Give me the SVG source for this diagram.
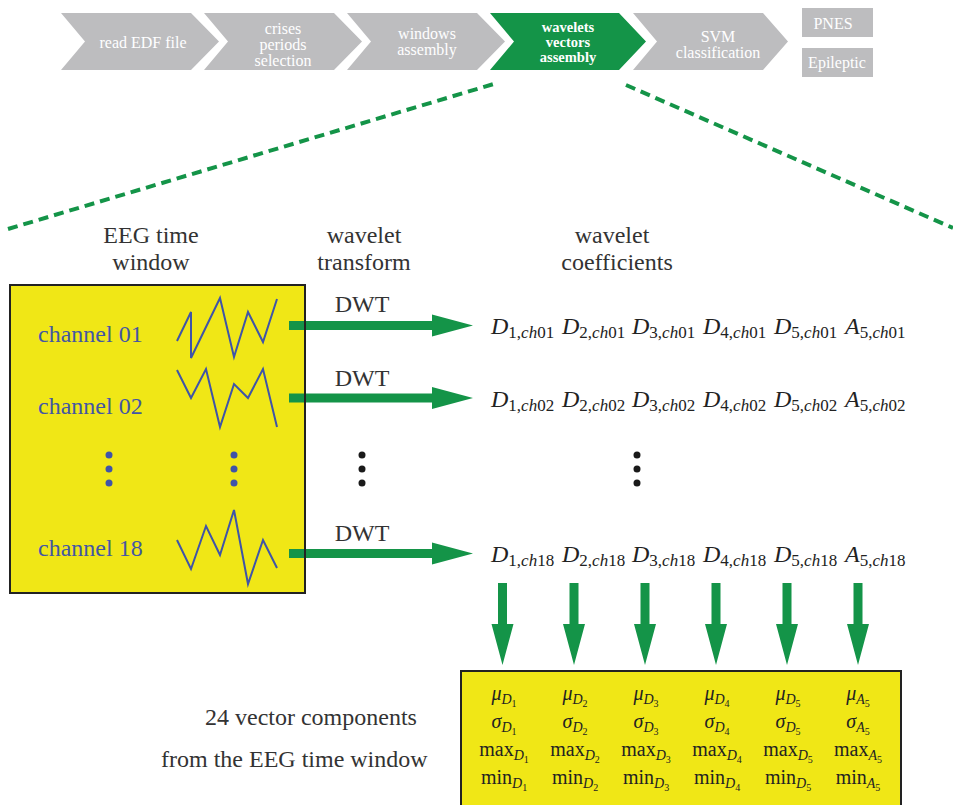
<svg xmlns="http://www.w3.org/2000/svg" width="953" height="805" viewBox="0 0 953 805">
<defs>
<style>
.chev{fill:#bdbdbf}
.chevg{fill:#149448}
.wave{fill:none;stroke:#3f54a8;stroke-width:2;stroke-linejoin:miter}
.bdot{fill:#3f54a8}
.kdot{fill:#1a1a1a}
.ybox{fill:#f0e716}
.border{fill:none;stroke:#222222;stroke-width:2}
.garrow{fill:#149448}
.dash{fill:none;stroke:#149448;stroke-width:4;stroke-dasharray:10,6}
</style>
</defs>

<!-- pipeline -->
<g id="step1">
<polygon class="chev" points="61,13 191,13 219,41.5 191,70 61,70 85,41.5"/>
<text font-family="Liberation Serif" font-size="16" fill="#ffffff" text-anchor="middle" x="143" y="48">read EDF file</text>
</g>
<g id="step2">
<polygon class="chev" points="204,13 334,13 362,41.5 334,70 204,70 228,41.5"/>
<text font-family="Liberation Serif" font-size="16" fill="#ffffff" text-anchor="middle" x="283" y="34">crises</text>
<text font-family="Liberation Serif" font-size="16" fill="#ffffff" text-anchor="middle" x="283" y="50">periods</text>
<text font-family="Liberation Serif" font-size="16" fill="#ffffff" text-anchor="middle" x="283" y="66">selection</text>
</g>
<g id="step3">
<polygon class="chev" points="347,13 477,13 505,41.5 477,70 347,70 371,41.5"/>
<text font-family="Liberation Serif" font-size="16" fill="#ffffff" text-anchor="middle" x="427" y="39">windows</text>
<text font-family="Liberation Serif" font-size="16" fill="#ffffff" text-anchor="middle" x="427" y="55">assembly</text>
</g>
<g id="step4">
<polygon class="chevg" points="490,13 619,13 646,41.5 619,70 490,70 514,41.5"/>
<text font-family="Liberation Serif" font-size="14.5" font-weight="bold" fill="#ffffff" text-anchor="middle" x="568" y="32">wavelets</text>
<text font-family="Liberation Serif" font-size="14.5" font-weight="bold" fill="#ffffff" text-anchor="middle" x="568" y="47">vectors</text>
<text font-family="Liberation Serif" font-size="14.5" font-weight="bold" fill="#ffffff" text-anchor="middle" x="568" y="62">assembly</text>
</g>
<g id="step5">
<polygon class="chev" points="633,13 763,13 788,41.5 763,70 633,70 657,41.5"/>
<text font-family="Liberation Serif" font-size="16" fill="#ffffff" text-anchor="middle" x="718" y="42">SVM</text>
<text font-family="Liberation Serif" font-size="16" fill="#ffffff" text-anchor="middle" x="718" y="58">classification</text>
</g>
<g id="pnes">
<rect class="chev" x="802" y="8" width="71" height="29"/>
<text font-family="Liberation Serif" font-size="16" fill="#ffffff" text-anchor="middle" x="833" y="29">PNES</text>
</g>
<g id="epileptic">
<rect class="chev" x="802" y="48" width="71" height="29"/>
<text font-family="Liberation Serif" font-size="16" fill="#ffffff" text-anchor="middle" x="837" y="68">Epileptic</text>
</g>

<!-- zoom lines -->
<g id="zoom-lines">
<line class="dash" x1="8" y1="229" x2="497" y2="83"/>
<line class="dash" x1="626" y1="85" x2="953" y2="228"/>
</g>

<!-- headers -->
<g id="headers">
<text font-family="Liberation Serif" font-size="24" fill="#333333" text-anchor="middle" x="151" y="243">EEG time</text>
<text font-family="Liberation Serif" font-size="24" fill="#333333" text-anchor="middle" x="151" y="270">window</text>
<text font-family="Liberation Serif" font-size="24" fill="#333333" text-anchor="middle" x="364" y="243">wavelet</text>
<text font-family="Liberation Serif" font-size="24" fill="#333333" text-anchor="middle" x="364" y="270">transform</text>
<text font-family="Liberation Serif" font-size="24" fill="#333333" text-anchor="middle" x="612" y="243">wavelet</text>
<text font-family="Liberation Serif" font-size="24" fill="#333333" text-anchor="middle" x="617" y="270">coefficients</text>
</g>

<!-- EEG window box -->
<g id="eeg-window">
<rect class="ybox" x="10" y="285" width="295" height="308"/>
<text font-family="Liberation Serif" font-size="24" fill="#4356a4" x="38" y="342">channel 01</text>
<text font-family="Liberation Serif" font-size="24" fill="#4356a4" x="38" y="414">channel 02</text>
<text font-family="Liberation Serif" font-size="24" fill="#4356a4" x="38" y="556">channel 18</text>
<polyline class="wave" points="177,341 191,312 191,358 220,298 234,357 248,312 263,342 277,299"/>
<polyline class="wave" points="177,370 191,398 206,369 220,427 234,384 248,398 263,369 277,427"/>
<polyline class="wave" points="177,540 191,569 206,526 220,555 234,510 248,584 263,540 277,568"/>
<circle class="bdot" cx="109" cy="455" r="3.5"/>
<circle class="bdot" cx="109" cy="469" r="3.5"/>
<circle class="bdot" cx="109" cy="483" r="3.5"/>
<circle class="bdot" cx="234" cy="455" r="3.5"/>
<circle class="bdot" cx="234" cy="469" r="3.5"/>
<circle class="bdot" cx="234" cy="483" r="3.5"/>
</g>

<!-- connectors -->
<g id="connectors">
<path class="garrow" d="M289,321 H432 V314.5 L473,325.5 L432,336.5 V330 H289 Z"/>
<path class="garrow" d="M289,393.5 H432 V387 L473,398 L432,409 V402.5 H289 Z"/>
<path class="garrow" d="M289,549 H432 V542.5 L473,553.5 L432,564.5 V558 H289 Z"/>
<path class="garrow" d="M498,583 V624 H491.5 L502.5,665 L513.5,624 H507 V583 Z"/>
<path class="garrow" d="M569.5,583 V624 H563 L574,665 L585,624 H578.5 V583 Z"/>
<path class="garrow" d="M640.5,583 V624 H634 L645,665 L656,624 H649.5 V583 Z"/>
<path class="garrow" d="M711.5,583 V624 H705 L716,665 L727,624 H720.5 V583 Z"/>
<path class="garrow" d="M782.5,583 V624 H776 L787,665 L798,624 H791.5 V583 Z"/>
<path class="garrow" d="M853.5,583 V624 H847 L858,665 L869,624 H862.5 V583 Z"/>
</g>

<rect class="border" x="10" y="285" width="295" height="308"/>

<g id="dwt-labels">
<text font-family="Liberation Serif" font-size="24" fill="#333333" text-anchor="middle" x="362" y="312">DWT</text>
<text font-family="Liberation Serif" font-size="24" fill="#333333" text-anchor="middle" x="362" y="386">DWT</text>
<text font-family="Liberation Serif" font-size="24" fill="#333333" text-anchor="middle" x="362" y="541">DWT</text>
</g>

<g id="ellipsis-mid">
<circle class="kdot" cx="362" cy="455" r="3.5"/>
<circle class="kdot" cx="362" cy="469" r="3.5"/>
<circle class="kdot" cx="362" cy="483" r="3.5"/>
<circle class="kdot" cx="637" cy="455" r="3.5"/>
<circle class="kdot" cx="637" cy="469" r="3.5"/>
<circle class="kdot" cx="637" cy="483" r="3.5"/>
</g>

<!-- coefficients -->
<g id="coefficients">
<text font-family="Liberation Serif" font-size="24" fill="#222222" y="334">
<tspan x="491" font-style="italic">D</tspan><tspan font-size="17" dy="4">1,<tspan font-style="italic">ch</tspan>01</tspan>
<tspan x="562" dy="-4" font-style="italic">D</tspan><tspan font-size="17" dy="4">2,<tspan font-style="italic">ch</tspan>01</tspan>
<tspan x="632" dy="-4" font-style="italic">D</tspan><tspan font-size="17" dy="4">3,<tspan font-style="italic">ch</tspan>01</tspan>
<tspan x="703" dy="-4" font-style="italic">D</tspan><tspan font-size="17" dy="4">4,<tspan font-style="italic">ch</tspan>01</tspan>
<tspan x="774" dy="-4" font-style="italic">D</tspan><tspan font-size="17" dy="4">5,<tspan font-style="italic">ch</tspan>01</tspan>
<tspan x="845" dy="-4" font-style="italic">A</tspan><tspan font-size="17" dy="4">5,<tspan font-style="italic">ch</tspan>01</tspan>
</text>
<text font-family="Liberation Serif" font-size="24" fill="#222222" y="407">
<tspan x="491" font-style="italic">D</tspan><tspan font-size="17" dy="4">1,<tspan font-style="italic">ch</tspan>02</tspan>
<tspan x="562" dy="-4" font-style="italic">D</tspan><tspan font-size="17" dy="4">2,<tspan font-style="italic">ch</tspan>02</tspan>
<tspan x="632" dy="-4" font-style="italic">D</tspan><tspan font-size="17" dy="4">3,<tspan font-style="italic">ch</tspan>02</tspan>
<tspan x="703" dy="-4" font-style="italic">D</tspan><tspan font-size="17" dy="4">4,<tspan font-style="italic">ch</tspan>02</tspan>
<tspan x="774" dy="-4" font-style="italic">D</tspan><tspan font-size="17" dy="4">5,<tspan font-style="italic">ch</tspan>02</tspan>
<tspan x="845" dy="-4" font-style="italic">A</tspan><tspan font-size="17" dy="4">5,<tspan font-style="italic">ch</tspan>02</tspan>
</text>
<text font-family="Liberation Serif" font-size="24" fill="#222222" y="562">
<tspan x="491" font-style="italic">D</tspan><tspan font-size="17" dy="4">1,<tspan font-style="italic">ch</tspan>18</tspan>
<tspan x="562" dy="-4" font-style="italic">D</tspan><tspan font-size="17" dy="4">2,<tspan font-style="italic">ch</tspan>18</tspan>
<tspan x="632" dy="-4" font-style="italic">D</tspan><tspan font-size="17" dy="4">3,<tspan font-style="italic">ch</tspan>18</tspan>
<tspan x="703" dy="-4" font-style="italic">D</tspan><tspan font-size="17" dy="4">4,<tspan font-style="italic">ch</tspan>18</tspan>
<tspan x="774" dy="-4" font-style="italic">D</tspan><tspan font-size="17" dy="4">5,<tspan font-style="italic">ch</tspan>18</tspan>
<tspan x="845" dy="-4" font-style="italic">A</tspan><tspan font-size="17" dy="4">5,<tspan font-style="italic">ch</tspan>18</tspan>
</text>
</g>

<!-- feature vector box -->
<g id="feature-vector">
<rect class="ybox" x="461" y="671" width="440" height="145"/>
<rect class="border" x="461" y="671" width="440" height="145"/>
<g id="col1">
<text font-family="Liberation Serif" font-size="20" fill="#222222" text-anchor="middle" x="504" y="700"><tspan font-style="italic">μ</tspan><tspan font-style="italic" font-size="14" dy="4">D</tspan><tspan font-size="10" dy="3">1</tspan></text>
<text font-family="Liberation Serif" font-size="20" fill="#222222" text-anchor="middle" x="504" y="728"><tspan font-style="italic">σ</tspan><tspan font-style="italic" font-size="14" dy="4">D</tspan><tspan font-size="10" dy="3">1</tspan></text>
<text font-family="Liberation Serif" font-size="20" fill="#222222" text-anchor="middle" x="504" y="756">max<tspan font-style="italic" font-size="14" dy="4">D</tspan><tspan font-size="10" dy="3">1</tspan></text>
<text font-family="Liberation Serif" font-size="20" fill="#222222" text-anchor="middle" x="504" y="784">min<tspan font-style="italic" font-size="14" dy="4">D</tspan><tspan font-size="10" dy="3">1</tspan></text>
</g>
<g id="col2">
<text font-family="Liberation Serif" font-size="20" fill="#222222" text-anchor="middle" x="575" y="700"><tspan font-style="italic">μ</tspan><tspan font-style="italic" font-size="14" dy="4">D</tspan><tspan font-size="10" dy="3">2</tspan></text>
<text font-family="Liberation Serif" font-size="20" fill="#222222" text-anchor="middle" x="575" y="728"><tspan font-style="italic">σ</tspan><tspan font-style="italic" font-size="14" dy="4">D</tspan><tspan font-size="10" dy="3">2</tspan></text>
<text font-family="Liberation Serif" font-size="20" fill="#222222" text-anchor="middle" x="575" y="756">max<tspan font-style="italic" font-size="14" dy="4">D</tspan><tspan font-size="10" dy="3">2</tspan></text>
<text font-family="Liberation Serif" font-size="20" fill="#222222" text-anchor="middle" x="575" y="784">min<tspan font-style="italic" font-size="14" dy="4">D</tspan><tspan font-size="10" dy="3">2</tspan></text>
</g>
<g id="col3">
<text font-family="Liberation Serif" font-size="20" fill="#222222" text-anchor="middle" x="646" y="700"><tspan font-style="italic">μ</tspan><tspan font-style="italic" font-size="14" dy="4">D</tspan><tspan font-size="10" dy="3">3</tspan></text>
<text font-family="Liberation Serif" font-size="20" fill="#222222" text-anchor="middle" x="646" y="728"><tspan font-style="italic">σ</tspan><tspan font-style="italic" font-size="14" dy="4">D</tspan><tspan font-size="10" dy="3">3</tspan></text>
<text font-family="Liberation Serif" font-size="20" fill="#222222" text-anchor="middle" x="646" y="756">max<tspan font-style="italic" font-size="14" dy="4">D</tspan><tspan font-size="10" dy="3">3</tspan></text>
<text font-family="Liberation Serif" font-size="20" fill="#222222" text-anchor="middle" x="646" y="784">min<tspan font-style="italic" font-size="14" dy="4">D</tspan><tspan font-size="10" dy="3">3</tspan></text>
</g>
<g id="col4">
<text font-family="Liberation Serif" font-size="20" fill="#222222" text-anchor="middle" x="717" y="700"><tspan font-style="italic">μ</tspan><tspan font-style="italic" font-size="14" dy="4">D</tspan><tspan font-size="10" dy="3">4</tspan></text>
<text font-family="Liberation Serif" font-size="20" fill="#222222" text-anchor="middle" x="717" y="728"><tspan font-style="italic">σ</tspan><tspan font-style="italic" font-size="14" dy="4">D</tspan><tspan font-size="10" dy="3">4</tspan></text>
<text font-family="Liberation Serif" font-size="20" fill="#222222" text-anchor="middle" x="717" y="756">max<tspan font-style="italic" font-size="14" dy="4">D</tspan><tspan font-size="10" dy="3">4</tspan></text>
<text font-family="Liberation Serif" font-size="20" fill="#222222" text-anchor="middle" x="717" y="784">min<tspan font-style="italic" font-size="14" dy="4">D</tspan><tspan font-size="10" dy="3">4</tspan></text>
</g>
<g id="col5">
<text font-family="Liberation Serif" font-size="20" fill="#222222" text-anchor="middle" x="788" y="700"><tspan font-style="italic">μ</tspan><tspan font-style="italic" font-size="14" dy="4">D</tspan><tspan font-size="10" dy="3">5</tspan></text>
<text font-family="Liberation Serif" font-size="20" fill="#222222" text-anchor="middle" x="788" y="728"><tspan font-style="italic">σ</tspan><tspan font-style="italic" font-size="14" dy="4">D</tspan><tspan font-size="10" dy="3">5</tspan></text>
<text font-family="Liberation Serif" font-size="20" fill="#222222" text-anchor="middle" x="788" y="756">max<tspan font-style="italic" font-size="14" dy="4">D</tspan><tspan font-size="10" dy="3">5</tspan></text>
<text font-family="Liberation Serif" font-size="20" fill="#222222" text-anchor="middle" x="788" y="784">min<tspan font-style="italic" font-size="14" dy="4">D</tspan><tspan font-size="10" dy="3">5</tspan></text>
</g>
<g id="col6">
<text font-family="Liberation Serif" font-size="20" fill="#222222" text-anchor="middle" x="858" y="700"><tspan font-style="italic">μ</tspan><tspan font-style="italic" font-size="14" dy="4">A</tspan><tspan font-size="10" dy="3">5</tspan></text>
<text font-family="Liberation Serif" font-size="20" fill="#222222" text-anchor="middle" x="858" y="728"><tspan font-style="italic">σ</tspan><tspan font-style="italic" font-size="14" dy="4">A</tspan><tspan font-size="10" dy="3">5</tspan></text>
<text font-family="Liberation Serif" font-size="20" fill="#222222" text-anchor="middle" x="858" y="756">max<tspan font-style="italic" font-size="14" dy="4">A</tspan><tspan font-size="10" dy="3">5</tspan></text>
<text font-family="Liberation Serif" font-size="20" fill="#222222" text-anchor="middle" x="858" y="784">min<tspan font-style="italic" font-size="14" dy="4">A</tspan><tspan font-size="10" dy="3">5</tspan></text>
</g>
</g>

<g id="vector-caption">
<text font-family="Liberation Serif" font-size="24" fill="#333333" x="205" y="725">24 vector components</text>
<text font-family="Liberation Serif" font-size="24" fill="#333333" x="161" y="767">from the EEG time window</text>
</g>
</svg>
